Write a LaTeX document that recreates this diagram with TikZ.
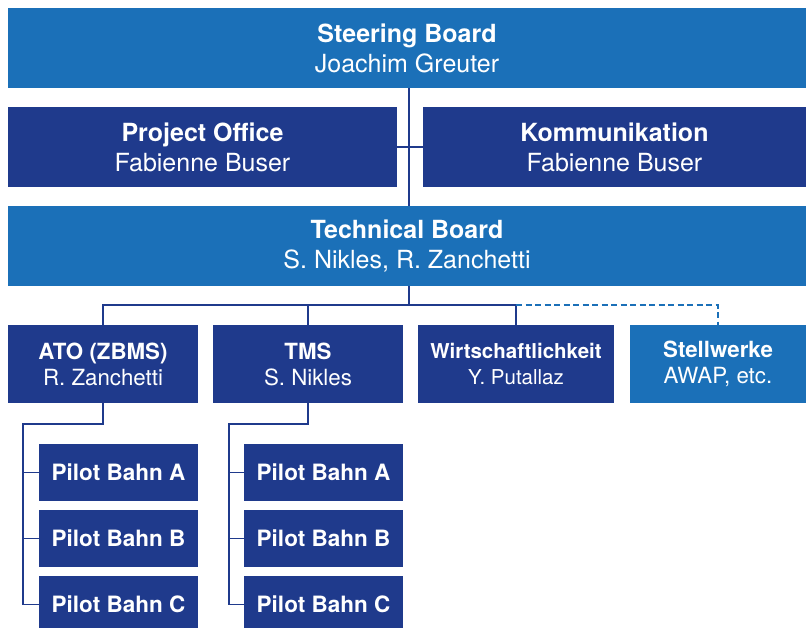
\documentclass[tikz,border=0pt]{standalone}
\usepackage{fontspec}
\setmainfont{TeX Gyre Heros}
\usepackage{tikz}
\usetikzlibrary{positioning}
\usepackage{xcolor}
\definecolor{boardblue}{RGB}{27,112,184}
\definecolor{unitblue}{RGB}{31,58,140}
\tikzset{
  box/.style={rectangle, text=white, align=center, inner sep=0pt, outer sep=0pt},
  board/.style={box, fill=boardblue, minimum width=798pt, minimum height=80pt,
                font=\fontsize{25}{30}\selectfont},
  staff/.style={box, fill=unitblue, minimum height=80pt,
                font=\fontsize{25}{30}\selectfont},
  unit/.style={box, fill=unitblue, minimum width=190pt, minimum height=78pt,
               font=\fontsize{22.3}{26}\selectfont},
  pilot/.style={box, fill=unitblue, minimum width=159pt, minimum height=57pt,
                font=\bfseries\fontsize{22.5}{24}\selectfont},
  link/.style={draw=unitblue, line width=1.8pt},
}

\begin{document}
\begin{tikzpicture}
    \useasboundingbox (0,0) rectangle (806pt,-627pt);
    % boards and staff
    \node[board, anchor=north west] (sb) at (8pt,-8pt)
      {\textbf{Steering Board}\\Joachim Greuter};
    \node[staff, minimum width=389pt, below=19pt of sb.south west, anchor=north west] (po)
      {\textbf{Project Office}\\Fabienne Buser};
    \node[staff, minimum width=383pt, below=19pt of sb.south east, anchor=north east] (ko)
      {\textbf{Kommunikation}\\Fabienne Buser};
    \node[board, below=19pt of po.south west, anchor=north west] (tb)
      {\textbf{Technical Board}\\S. Nikles, R. Zanchetti};
    % units
    \node[unit, below=39pt of tb.south west, anchor=north west] (ato)
      {\textbf{ATO (ZBMS)}\\R. Zanchetti};
    \node[unit, right=15pt of ato] (tms)
      {\textbf{TMS}\\S. Nikles};
    \node[unit, minimum width=196pt, right=15pt of tms, font=\fontsize{20.5}{26}\selectfont] (wi)
      {\textbf{Wirtschaftlichkeit}\\Y. Putallaz};
    \node[unit, minimum width=176pt, fill=boardblue, right=16pt of wi] (sw)
      {\textbf{Stellwerke}\\AWAP, etc.};
    % pilots
    \node[pilot, below=41pt of ato.south east, anchor=north east] (pa1) {Pilot Bahn A};
    \node[pilot, below=9pt of pa1] (pb1) {Pilot Bahn B};
    \node[pilot, below=9pt of pb1] (pc1) {Pilot Bahn C};
    \node[pilot, below=41pt of tms.south east, anchor=north east] (pa2) {Pilot Bahn A};
    \node[pilot, below=9pt of pa2] (pb2) {Pilot Bahn B};
    \node[pilot, below=9pt of pb2] (pc2) {Pilot Bahn C};
    % connectors
    \draw[link] ([xshift=2pt]sb.south) -- ([xshift=2pt]tb.north);
    \draw[link] (po.east) -- (ko.west);
    \draw[link] ([xshift=2pt]tb.south) -- ++(0,-19pt) coordinate (bus);
    \draw[link] (ato.north) |- (bus) -| (wi.north);
    \draw[link] (tms.north) -- (tms.north |- bus);
    \draw[link, draw=boardblue, dash pattern=on 6pt off 3.5pt] (wi.north |- bus) -| (sw.north);
    \draw[link] (ato.south) -- ++(0,-21pt) -| ([xshift=-16pt]pc1.west) -- (pc1.west);
    \draw[link] ([xshift=-16pt]pa1.west) -- (pa1.west);
    \draw[link] ([xshift=-16pt]pb1.west) -- (pb1.west);
    \draw[link] (tms.south) -- ++(0,-21pt) -| ([xshift=-15pt]pc2.west) -- (pc2.west);
    \draw[link] ([xshift=-15pt]pa2.west) -- (pa2.west);
    \draw[link] ([xshift=-15pt]pb2.west) -- (pb2.west);
  \end{tikzpicture}
\end{document}
